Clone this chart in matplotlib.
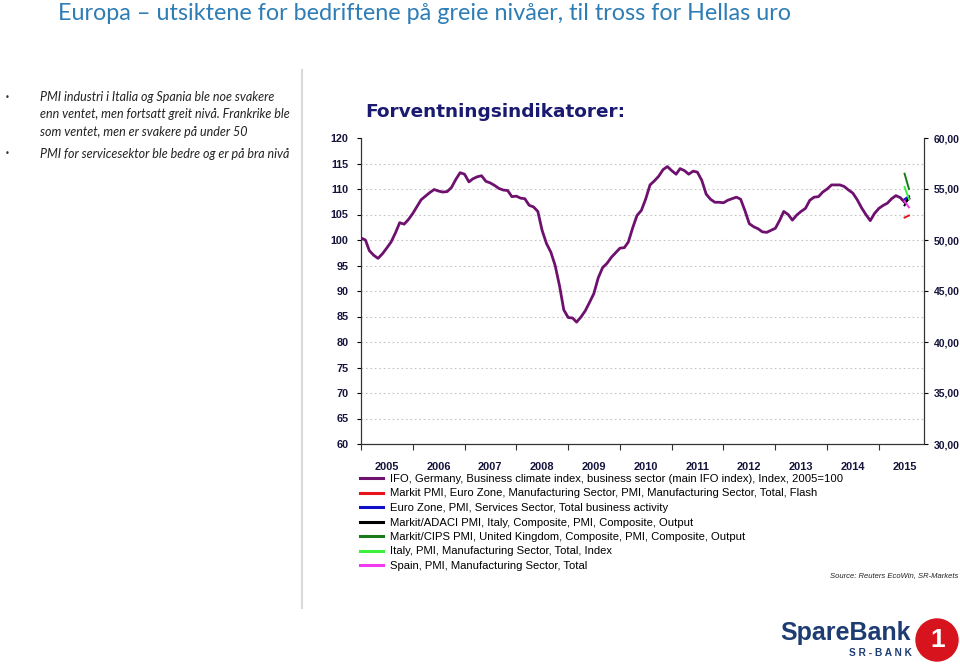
import numpy as np
import pandas as pd
import matplotlib
matplotlib.use("Agg")
import matplotlib.pyplot as plt
import matplotlib.dates as mdates
from matplotlib.patches import Ellipse

# ------------------------------
# Data (monthly, Jan 2005 - Aug 2015)
# ------------------------------
dates = pd.date_range("2005-01-01", periods=128, freq="MS")

ifo = [100.4, 100.0, 97.9, 97.0, 96.4, 97.3, 98.4, 99.6, 101.4, 103.4, 103.1, 104.0,
       105.2, 106.6, 107.9, 108.6, 109.3, 109.9, 109.6, 109.4, 109.5, 110.3, 111.9, 113.2,
       112.9, 111.4, 112.0, 112.4, 112.6, 111.5, 111.2, 110.7, 110.1, 109.8, 109.7, 108.5,
       108.6, 108.2, 108.1, 106.8, 106.5, 105.6, 101.9, 99.3, 97.6, 95.0, 91.0, 86.3,
       84.8, 84.7, 83.9, 84.9, 86.1, 87.8, 89.5, 92.6, 94.6, 95.4, 96.6, 97.5,
       98.4, 98.5, 99.6, 102.4, 104.8, 105.8, 108.0, 110.8, 111.6, 112.5, 113.8, 114.4,
       113.6, 112.9, 114.0, 113.6, 112.9, 113.5, 113.3, 111.7, 109.0, 108.0, 107.4, 107.4,
       107.3, 107.8, 108.1, 108.4, 108.0, 105.7, 103.2, 102.6, 102.2, 101.6, 101.5, 101.9,
       102.3, 103.9, 105.6, 105.0, 103.9, 104.9, 105.6, 106.2, 107.8, 108.4, 108.5, 109.4,
       110.0, 110.8, 110.8, 110.8, 110.5, 109.8, 109.2, 107.9, 106.3, 105.0, 103.8, 105.2,
       106.2, 106.8, 107.2, 108.1, 108.7, 108.3, 107.4, 108.1]

# PMI series, only the last two months (Jul, Aug 2015)
pmi_dates = dates[-2:]
ez_mfg_flash = [52.2, 52.4]
ez_services = [54.0, 54.3]
italy_comp = [53.4, 54.2]
uk_comp = [56.5, 55.0]
italy_mfg = [55.2, 54.0]
spain_mfg = [53.8, 53.2]

labels = [
    "IFO, Germany, Business climate index, business sector (main IFO index), Index, 2005=100",
    "Markit PMI, Euro Zone, Manufacturing Sector, PMI, Manufacturing Sector, Total, Flash",
    "Euro Zone, PMI, Services Sector, Total business activity",
    "Markit/ADACI PMI, Italy, Composite, PMI, Composite, Output",
    "Markit/CIPS PMI, United Kingdom, Composite, PMI, Composite, Output",
    "Italy, PMI, Manufacturing Sector, Total, Index",
    "Spain, PMI, Manufacturing Sector, Total",
]
colors = ["#6e106e", "#e8141c", "#1010c8", "#000000", "#1a7a1a", "#3ef03e", "#f03cf0"]

bullets = [
    ["PMI industri i Italia og Spania ble noe svakere",
     "enn ventet, men fortsatt greit nivå. Frankrike ble",
     "som ventet, men er svakere på under 50"],
    ["PMI for servicesektor ble bedre og er på bra nivå"],
]

# ------------------------------
# Figure
# ------------------------------
W, H = 960, 666
fig = plt.figure(figsize=(W / 100, H / 100), dpi=100)
fig.patch.set_facecolor("white")


def fx(px):
    return px / W


def fy(py):
    return 1 - py / H


navy = "#14143c"

# Slide title
fig.text(fx(58), fy(14), "Europa – utsiktene for bedriftene på greie nivåer, til tross for Hellas uro",
         fontsize=16.8, color="#2e7db5", family="Lato", va="center", ha="left")

# Left bullet text
y = 97
for block in bullets:
    fig.text(fx(5), fy(y), "•", fontsize=6, color="#333333", va="center")
    for line in block:
        fig.text(fx(40), fy(y), line, fontsize=9.0, style="italic", family="Lato",
                 color="#222222", va="center")
        y += 17.5
    y += 4

# Separator line
fig.add_artist(plt.Line2D([fx(302), fx(302)], [fy(70), fy(608)], color="#d9d9d9", lw=1.5))

# Chart title
fig.text(fx(365), fy(112), "Forventningsindikatorer:", fontsize=13.3, fontweight="bold",
         color="#1a1a70", family="DejaVu Sans", va="center")

# ------------------------------
# Axes
# ------------------------------
ax = fig.add_axes([fx(361), fy(444), fx(924) - fx(361), fy(138) - fy(444)])
ax2 = ax.twinx()

ax.plot(dates, ifo, color=colors[0], lw=2.0, zorder=3)
for series, c in zip([ez_mfg_flash, ez_services, italy_comp, uk_comp, italy_mfg, spain_mfg], colors[1:]):
    ax2.plot(pmi_dates, series, color=c, lw=1.4)

ax.set_ylim(60, 120)
ax2.set_ylim(30, 60)
ax.set_xlim(pd.Timestamp("2005-01-01"), pd.Timestamp("2015-11-15"))

ax.set_yticks(np.arange(60, 121, 5))
ax2.set_yticks(np.arange(30, 61, 5))
ax2.set_yticklabels([f"{v:.2f}".replace(".", ",") for v in np.arange(30, 61, 5)])

ax.xaxis.set_major_locator(mdates.YearLocator())
ax.xaxis.set_major_formatter(plt.NullFormatter())
ax.xaxis.set_minor_locator(mdates.MonthLocator(bymonth=7))
ax.xaxis.set_minor_formatter(mdates.DateFormatter("%Y"))
ax.tick_params(axis="x", which="major", length=4, width=0.8, color="#333333")
ax.tick_params(axis="x", which="minor", length=0, pad=13, labelsize=7.9, labelcolor=navy)
for t in ax.xaxis.get_minorticklabels():
    t.set_fontweight("bold")
    t.set_family("Liberation Sans")

ax.tick_params(axis="y", length=3, width=0.8, pad=6, labelsize=7.8, labelcolor=navy)
ax2.tick_params(axis="y", length=3, width=0.8, pad=4, labelsize=7.5, labelcolor=navy)
for t in ax.get_yticklabels() + ax2.get_yticklabels():
    t.set_fontweight("bold")
    t.set_family("Liberation Sans")

ax.grid(axis="y", linestyle=(0, (1.5, 2.5)), color="#c4c4c4", lw=0.8)
ax.get_ygridlines()[-1].set_visible(False)
for a in (ax, ax2):
    a.spines["top"].set_visible(False)
    a.spines["left"].set_color("#333333")
    a.spines["right"].set_color("#333333")
    a.spines["bottom"].set_color("#333333")
    a.set_facecolor("none")

# Legend
handles = [plt.Line2D([], [], color=c, lw=2.2) for c in colors]
fig.legend(handles, labels, loc="upper left", bbox_to_anchor=(fx(360), fy(474)),
           frameon=False, handlelength=2.0, handletextpad=0.7,
           labelspacing=0.4, borderpad=0, borderaxespad=0,
           prop={"family": "Liberation Sans", "size": 8.1})

fig.text(fx(958), fy(576), "Source: Reuters EcoWin, SR-Markets", fontsize=5.5, style="italic",
         color="#222222", ha="right", va="center", family="Liberation Sans")

# ------------------------------
# Logo
# ------------------------------
fig.text(fx(780), fy(633), "SpareBank", fontsize=18, fontweight="bold", color="#1d3c72",
         family="Liberation Sans", ha="left", va="center")
fig.text(fx(912), fy(653), "S R - B A N K", fontsize=7.3, fontweight="bold", color="#1d3c72",
         family="Liberation Sans", ha="right", va="center")
circ = Ellipse((fx(937), fy(640)), 42 / W, 42 / H, transform=fig.transFigure, color="#d7141e")
fig.patches.append(circ)
fig.text(fx(938), fy(640), "1", fontsize=19, fontweight="bold", color="white",
         family="Liberation Sans", ha="center", va="center")

fig.savefig("out.png", dpi=100)
